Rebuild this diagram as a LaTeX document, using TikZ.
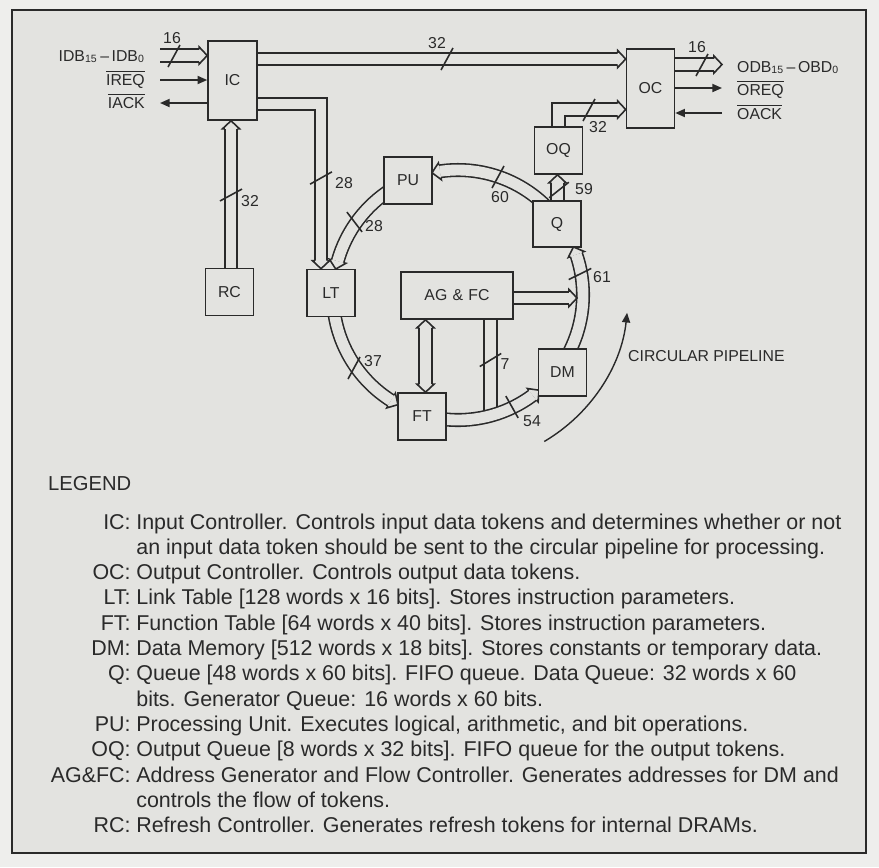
\documentclass[tikz,border=0pt]{standalone}
\usepackage{fontspec}
\setmainfont{Liberation Sans}
\usepackage{xcolor}
\usepackage{tikz}
\usetikzlibrary{positioning,arrows.meta,calc}
\definecolor{PaperGray}{HTML}{EEEEEC}
\definecolor{PanelGray}{HTML}{E3E3E0}
\definecolor{InkDark}{HTML}{2A2A2A}
\pgfdeclarelayer{back}
\pgfdeclarelayer{wires}
\pgfsetlayers{back,wires,main}

\begin{document}
\begin{tikzpicture}[x=0.02cm, y=-0.02cm,
    every node/.style={font=\fontsize{9}{11}\selectfont, text=InkDark},
    blk/.style={draw=InkDark, fill=PanelGray, line width=0.9pt,
      minimum width=0.96cm, minimum height=0.94cm, inner sep=0pt},
    bus/.style={draw=InkDark, line width=0.9pt, double=PanelGray,
      double distance=6.2pt},
    hd/.style={shorten >=0.16cm},
    sig/.style={draw=InkDark, line width=0.9pt,
      -{Triangle[length=5.5pt,width=4.6pt]}},
    num/.style={inner sep=0pt},
    bushead/.pic={\filldraw[draw=InkDark, fill=PanelGray, line width=0.9pt]
      (-8,-6.25) -- (-8,-8.5) -- (0,0) -- (-8,8.5) -- (-8,6.25);},
    bustick/.pic={\draw[InkDark, line width=0.9pt] (-6,11) -- (6,-11);}]

  \useasboundingbox (0,0) rectangle (879,867);
  \begin{pgfonlayer}{back}
    \fill[PaperGray] (0,0) rectangle (879,867);
    \filldraw[fill=PanelGray, draw=InkDark, line width=1pt]
      (12,10) rectangle (866,853);
  \end{pgfonlayer}

  % blocks
  \node[blk, minimum width=0.98cm, minimum height=1.58cm] (IC) at (232.5,80.5) {IC};
  \node[blk, minimum height=1.58cm] (OC) at (650.5,88.5) {OC};
  \node[blk] (OQ) at (558.5,150.5) {OQ};
  \node[blk, minimum height=0.92cm] (Q) at (557,224) {Q};
  \node[blk] (PU) at (408,180.5) {PU};
  \node[blk] (RC) at (229.5,292) {RC};
  \node[blk] (LT) at (331,293) {LT};
  \node[blk, minimum width=2.24cm] (AGFC) at (457,295.5) {AG\,\,\&\,\,FC};
  \node[blk] (FT) at (422,416.5) {FT};
  \node[blk] (DM) at (562.5,372.5) {DM};

  \coordinate (idb) at (160,55.5);
  \coordinate (ireq) at (160,80);
  \coordinate (iack) at (160,103);
  \coordinate (toOC) at (440,59);
  \coordinate (toLT) at (321,104);
  \coordinate (rcup) at (231,200);
  \coordinate (odb) at (722,64.5);
  \coordinate (oreq) at (722,88);
  \coordinate (oack) at (722,113);
  \coordinate (oqup) at (558.5,109.5);
  \coordinate (qup) at (557.5,190);
  \coordinate (ftup) at (425.5,350);
  \coordinate (agdn) at (490.5,416);
  \coordinate (agin) at (577,298);
  \coordinate (ctr) at (458,295);

  \begin{pgfonlayer}{wires}
    % input side
    \draw[bus,hd] (idb) -- (idb -| IC.west);
    \pic at (idb -| IC.west) {bushead};
    \draw[sig] (ireq) -- (ireq -| IC.west);
    \draw[sig] (IC.west |- iack) -- (iack);
    \draw[bus,hd] (IC.east |- toOC) -- (OC.west |- toOC);
    \pic at (OC.west |- toOC) {bushead};
    \draw[bus,hd] (IC.east |- toLT) -| (LT.north -| toLT);
    \pic[rotate=-90] at (LT.north -| toLT) {bushead};
    \draw[bus,hd] (RC.north -| rcup) -- (IC.south -| rcup);
    \pic[rotate=90] at (IC.south -| rcup) {bushead};
    % output side
    \draw[bus,hd] (OC.east |- odb) -- (odb);
    \pic at (odb) {bushead};
    \draw[sig] (OC.east |- oreq) -- (oreq);
    \draw[sig] (oack) -- (OC.east |- oack);
    \draw[bus,hd] (OQ.north) |- (OC.west |- oqup);
    \pic at (OC.west |- oqup) {bushead};
    \draw[bus,hd] (Q.north -| qup) -- (OQ.south -| qup);
    \pic[rotate=90] at (OQ.south -| qup) {bushead};
    % AG & FC
    \draw[bus,hd,shorten <=0.16cm] (AGFC.south -| ftup) -- (FT.north -| ftup);
    \pic[rotate=90] at (AGFC.south -| ftup) {bushead};
    \pic[rotate=-90] at (FT.north -| ftup) {bushead};
    \draw[bus] (AGFC.south -| agdn) -- (agdn);
    % circular pipeline
    \draw[bus] ($(ctr)+(172:125)$) arc[start angle=172, end angle=122.4, radius=125];
    \pic[rotate=-30.55] at ($(ctr)+(118.7:125)$) {bushead};
    \draw[bus] ($(ctr)+(98:125)$) arc[start angle=98, end angle=53.3, radius=125];
    \pic[rotate=38.55] at ($(ctr)+(49.6:125)$) {bushead};
    \draw[bus] ($(ctr)+(28:125)$) arc[start angle=28, end angle=-18.9, radius=125];
    \pic[rotate=110.75] at ($(ctr)+(-22.6:125)$) {bushead};
    \draw[bus] ($(ctr)+(-46:125)$) arc[start angle=-46, end angle=-98.3, radius=125];
    \pic[rotate=190.15] at ($(ctr)+(-102:125)$) {bushead};
    \draw[bus] ($(ctr)+(-122:125)$) arc[start angle=-122, end angle=-164.3, radius=125];
    \pic[rotate=256.15] at ($(ctr)+(-168:125)$) {bushead};
    \draw[bus,hd] (AGFC.east |- agin) -- (agin);
    \pic at (agin) {bushead};
    % bus widths
    \pic at (174,56) {bustick};
    \pic at (447,59) {bustick};
    \pic at (702,65) {bustick};
    \pic at (589,110) {bustick};
    \pic[rotate=-32] at (321,178) {bustick};
    \pic[rotate=-33] at (231,195) {bustick};
    \pic[rotate=-23] at (559,190) {bustick};
    \pic[rotate=-30] at (490.5,360) {bustick};
    \pic at (354,368) {bustick};
    \pic[rotate=66] at (354.5,222) {bustick};
    \pic at (498,177) {bustick};
    \pic[rotate=-35] at (580,274) {bustick};
    \pic[rotate=58] at (512,407) {bustick};
  \end{pgfonlayer}

  \draw[sig, line width=0.8pt] ($(ctr)+(59.5:170)$) arc[start angle=59.5, end angle=6, radius=170];
  \node[anchor=base west] (pipe) at (622,361) {CIRCULAR PIPELINE};

  % signal names
  \node[anchor=base east] (idbl) at (151,61) {IDB\textsubscript{15}\,--\,IDB\textsubscript{0}};
  \node[anchor=base east] (ireql) at (151,85) {$\overline{\mbox{IREQ}}$};
  \node[anchor=base east] (iackl) at (151,108) {$\overline{\mbox{IACK}}$};
  \node[anchor=base west] (odbl) at (731,72) {ODB\textsubscript{15}\,--\,OBD\textsubscript{0}};
  \node[anchor=base west] (oreql) at (731,95) {$\overline{\mbox{OREQ}}$};
  \node[anchor=base west] (oackl) at (731,119) {$\overline{\mbox{OACK}}$};

  % widths
  \node[num] (w16i) at (172,38) {16};
  \node[num] (w32t) at (437,43) {32};
  \node[num] (w16o) at (697,47) {16};
  \node[num] (w32q) at (598,127) {32};
  \node[num] (w28l) at (344,183) {28};
  \node[num] (w32r) at (250,201) {32};
  \node[num] (w28p) at (374,226) {28};
  \node[num] (w60) at (500,197) {60};
  \node[num] (w59) at (584,189) {59};
  \node[num] (w61) at (602,277) {61};
  \node[num] (w37) at (373,361) {37};
  \node[num] (w7) at (505,364) {7};
  \node[num] (w54) at (532,421) {54};

  % legend
  \node[anchor=base west, font=\fontsize{11.5}{13}\selectfont] (leghead) at (42,490) {LEGEND};
  \node[anchor=north east, align=right, inner sep=0pt,
    font=\fontsize{12.2}{14.4}\selectfont] (legkeys) at (131,511)
  {\strut IC:\\ \strut\\ OC:\\ LT:\\ FT:\\ DM:\\ Q:\\ \strut\\ PU:\\ OQ:\\
    AG\&FC:\\ \strut\\ RC:};
  \node[anchor=north west, align=left, inner sep=0pt,
    font=\fontsize{12.2}{14.4}\selectfont] (legtext) at (136,511)
  {\strut Input Controller. Controls input data tokens and determines whether or not\\
    an input data token should be sent to the circular pipeline for processing.\\
    Output Controller. Controls output data tokens.\\
    Link Table [128 words x 16 bits]. Stores instruction parameters.\\
    Function Table [64 words x 40 bits]. Stores instruction parameters.\\
    Data Memory [512 words x 18 bits]. Stores constants or temporary data.\\
    Queue [48 words x 60 bits]. FIFO queue. Data Queue: 32 words x 60\\
    bits. Generator Queue: 16 words x 60 bits.\\
    Processing Unit. Executes logical, arithmetic, and bit operations.\\
    Output Queue [8 words x 32 bits]. FIFO queue for the output tokens.\\
    Address Generator and Flow Controller. Generates addresses for DM and\\
    controls the flow of tokens.\\
    Refresh Controller. Generates refresh tokens for internal DRAMs.};
\end{tikzpicture}
\end{document}
